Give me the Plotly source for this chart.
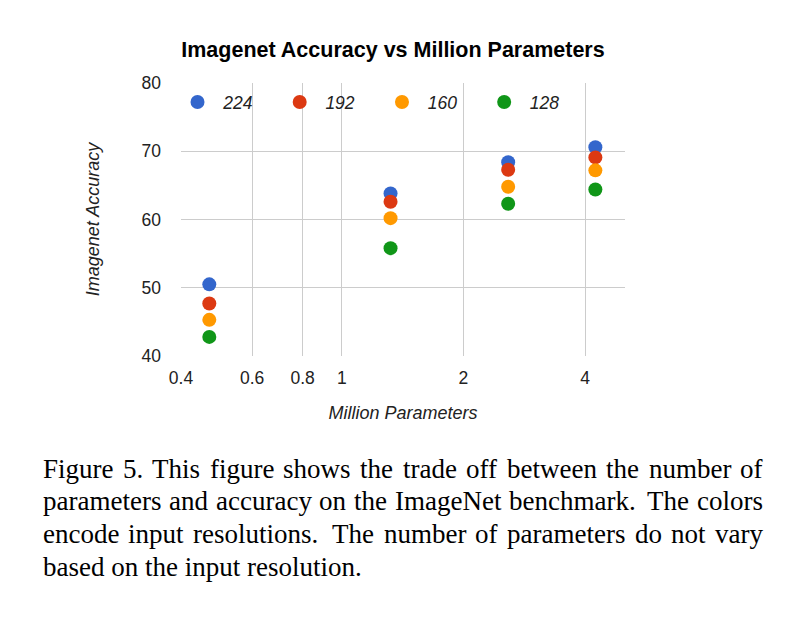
import math
import plotly.graph_objects as go

params = [0.47, 1.32, 2.58, 4.24]
resolutions = ["224", "192", "160", "128"]
acc_224 = [50.5, 63.8, 68.4, 70.6]
acc_192 = [47.7, 62.6, 67.3, 69.1]
acc_160 = [45.3, 60.2, 64.8, 67.2]
acc_128 = [42.8, 55.8, 62.3, 64.4]
colors = ["#3366CC", "#DC3912", "#FF9900", "#109618"]
x_ticks = [0.4, 0.6, 0.8, 1, 2, 4]
x_tick_text = ["0.4", "0.6", "0.8", "1", "2", "4"]
y_ticks = [40, 50, 60, 70, 80]
caption_lines = [
    "Figure 5. This figure shows the trade off between the number of",
    "parameters and accuracy on the ImageNet benchmark. The colors",
    "encode input resolutions. The number of parameters do not vary",
    "based on the input resolution.",
]

# page is rendered with an 8px body margin; layout below is in figure pixels
OFF = 8
W, H = 794, 620
L, R, T, B = 180.5 - OFF, 625 - OFF, 82.5 - OFF, 356.5 - OFF
PW, PH = R - L, B - T

legend_ids = ["legend", "legend2", "legend3", "legend4"]
legend_marker_px = [197, 299.3, 401.7, 504]   # page x of legend swatches
ITEMW = 41.4

fig = go.Figure()
for name, ys, c, lid in zip(resolutions, [acc_224, acc_192, acc_160, acc_128], colors, legend_ids):
    fig.add_trace(go.Scatter(x=params, y=ys, mode="markers", name=name, legend=lid,
                             marker=dict(color=c, size=14, line=dict(width=0))))

fig.update_layout(
    width=W, height=H,
    margin=dict(l=L, r=W - R, t=T, b=H - B, pad=0),
    paper_bgcolor="white", plot_bgcolor="white",
    font=dict(family="Liberation Sans, Arial, sans-serif", color="#222222", size=17),
    title=dict(text="<b>Imagenet Accuracy vs Million Parameters</b>",
               x=(393 - OFF) / W, xanchor="center", y=1 - (49.5 - OFF) / H, yanchor="middle",
               font=dict(size=21.5, color="#000000")),
    showlegend=True,
    xaxis=dict(type="log", range=[math.log10(0.4), math.log10(5.02)],
               tickvals=x_ticks, ticktext=x_tick_text,
               tickfont=dict(size=17.5),
               showgrid=True, gridcolor="#CCCCCC", gridwidth=1,
               zeroline=False, showline=False, ticks="",
               ticklabelstandoff=9,
               title=dict(text="<i>Million Parameters</i>", standoff=19,
                          font=dict(size=18, color="#222222"))),
    yaxis=dict(range=[40, 80], tickvals=y_ticks,
               tickfont=dict(size=17.5),
               showgrid=True, gridcolor="#CCCCCC", gridwidth=1,
               zeroline=False, showline=False, ticks="",
               ticklabelstandoff=19,
               title=dict(text="<i>Imagenet Accuracy</i>", standoff=37,
                          font=dict(size=18, color="#222222"))),
)

for lid, mx in zip(legend_ids, legend_marker_px):
    fig.update_layout({lid: dict(
        orientation="h", x=(mx - (ITEMW / 2 + 5) - OFF - L) / PW, xanchor="left",
        y=1 - (101.7 - OFF - T) / PH, yanchor="middle",
        font=dict(size=17.5, style="italic", color="#222222"),
        itemwidth=ITEMW, bgcolor="rgba(0,0,0,0)", itemsizing="trace")})

# justified caption (Times metrics, units per 1000 em)
tw = {" ": 250, ".": 250, "5": 500, "A": 722, "F": 556, "I": 333, "N": 722, "T": 611,
      "a": 444, "b": 500, "c": 444, "d": 500, "e": 444, "f": 333, "g": 500, "h": 500,
      "i": 278, "j": 278, "k": 500, "l": 278, "m": 778, "n": 500, "o": 500, "p": 500,
      "q": 500, "r": 333, "s": 389, "t": 278, "u": 500, "v": 500, "w": 722, "x": 500,
      "y": 500, "z": 444}
CAP_FS = 27
left_px, right_px = 42 - OFF, 763 - OFF
line_y = [468.5, 501.3, 534.0, 566.8]


def wwidth(w):
    return sum(tw.get(ch, 500) for ch in w) * CAP_FS / 1000.0


def to_paper_x(px):
    return (px - L) / PW


def to_paper_y(py):
    return (B - py) / PH


for i, line in enumerate(caption_lines):
    yp = to_paper_y(line_y[i] - OFF + 1)
    cfont = dict(family="Liberation Serif, Times New Roman, serif", size=CAP_FS, color="#000000")
    if i == len(caption_lines) - 1:
        fig.add_annotation(text=line, xref="paper", yref="paper", x=to_paper_x(left_px - 2),
                           xanchor="left", y=yp, yanchor="middle", showarrow=False, font=cfont)
        continue
    words = line.split(" ")
    weights = [1.5 if (w.endswith(".") and w not in ("5.",)) else 1.0 for w in words[:-1]]
    total_w = sum(wwidth(w) for w in words)
    unit = (right_px - left_px - total_w) / sum(weights)
    xpos = left_px
    for j, w in enumerate(words):
        fig.add_annotation(text=w, xref="paper", yref="paper", x=to_paper_x(xpos - 2),
                           xanchor="left", y=yp, yanchor="middle", showarrow=False, font=cfont)
        if j < len(weights):
            xpos += wwidth(w) + unit * weights[j]

fig.write_html("out.html")
